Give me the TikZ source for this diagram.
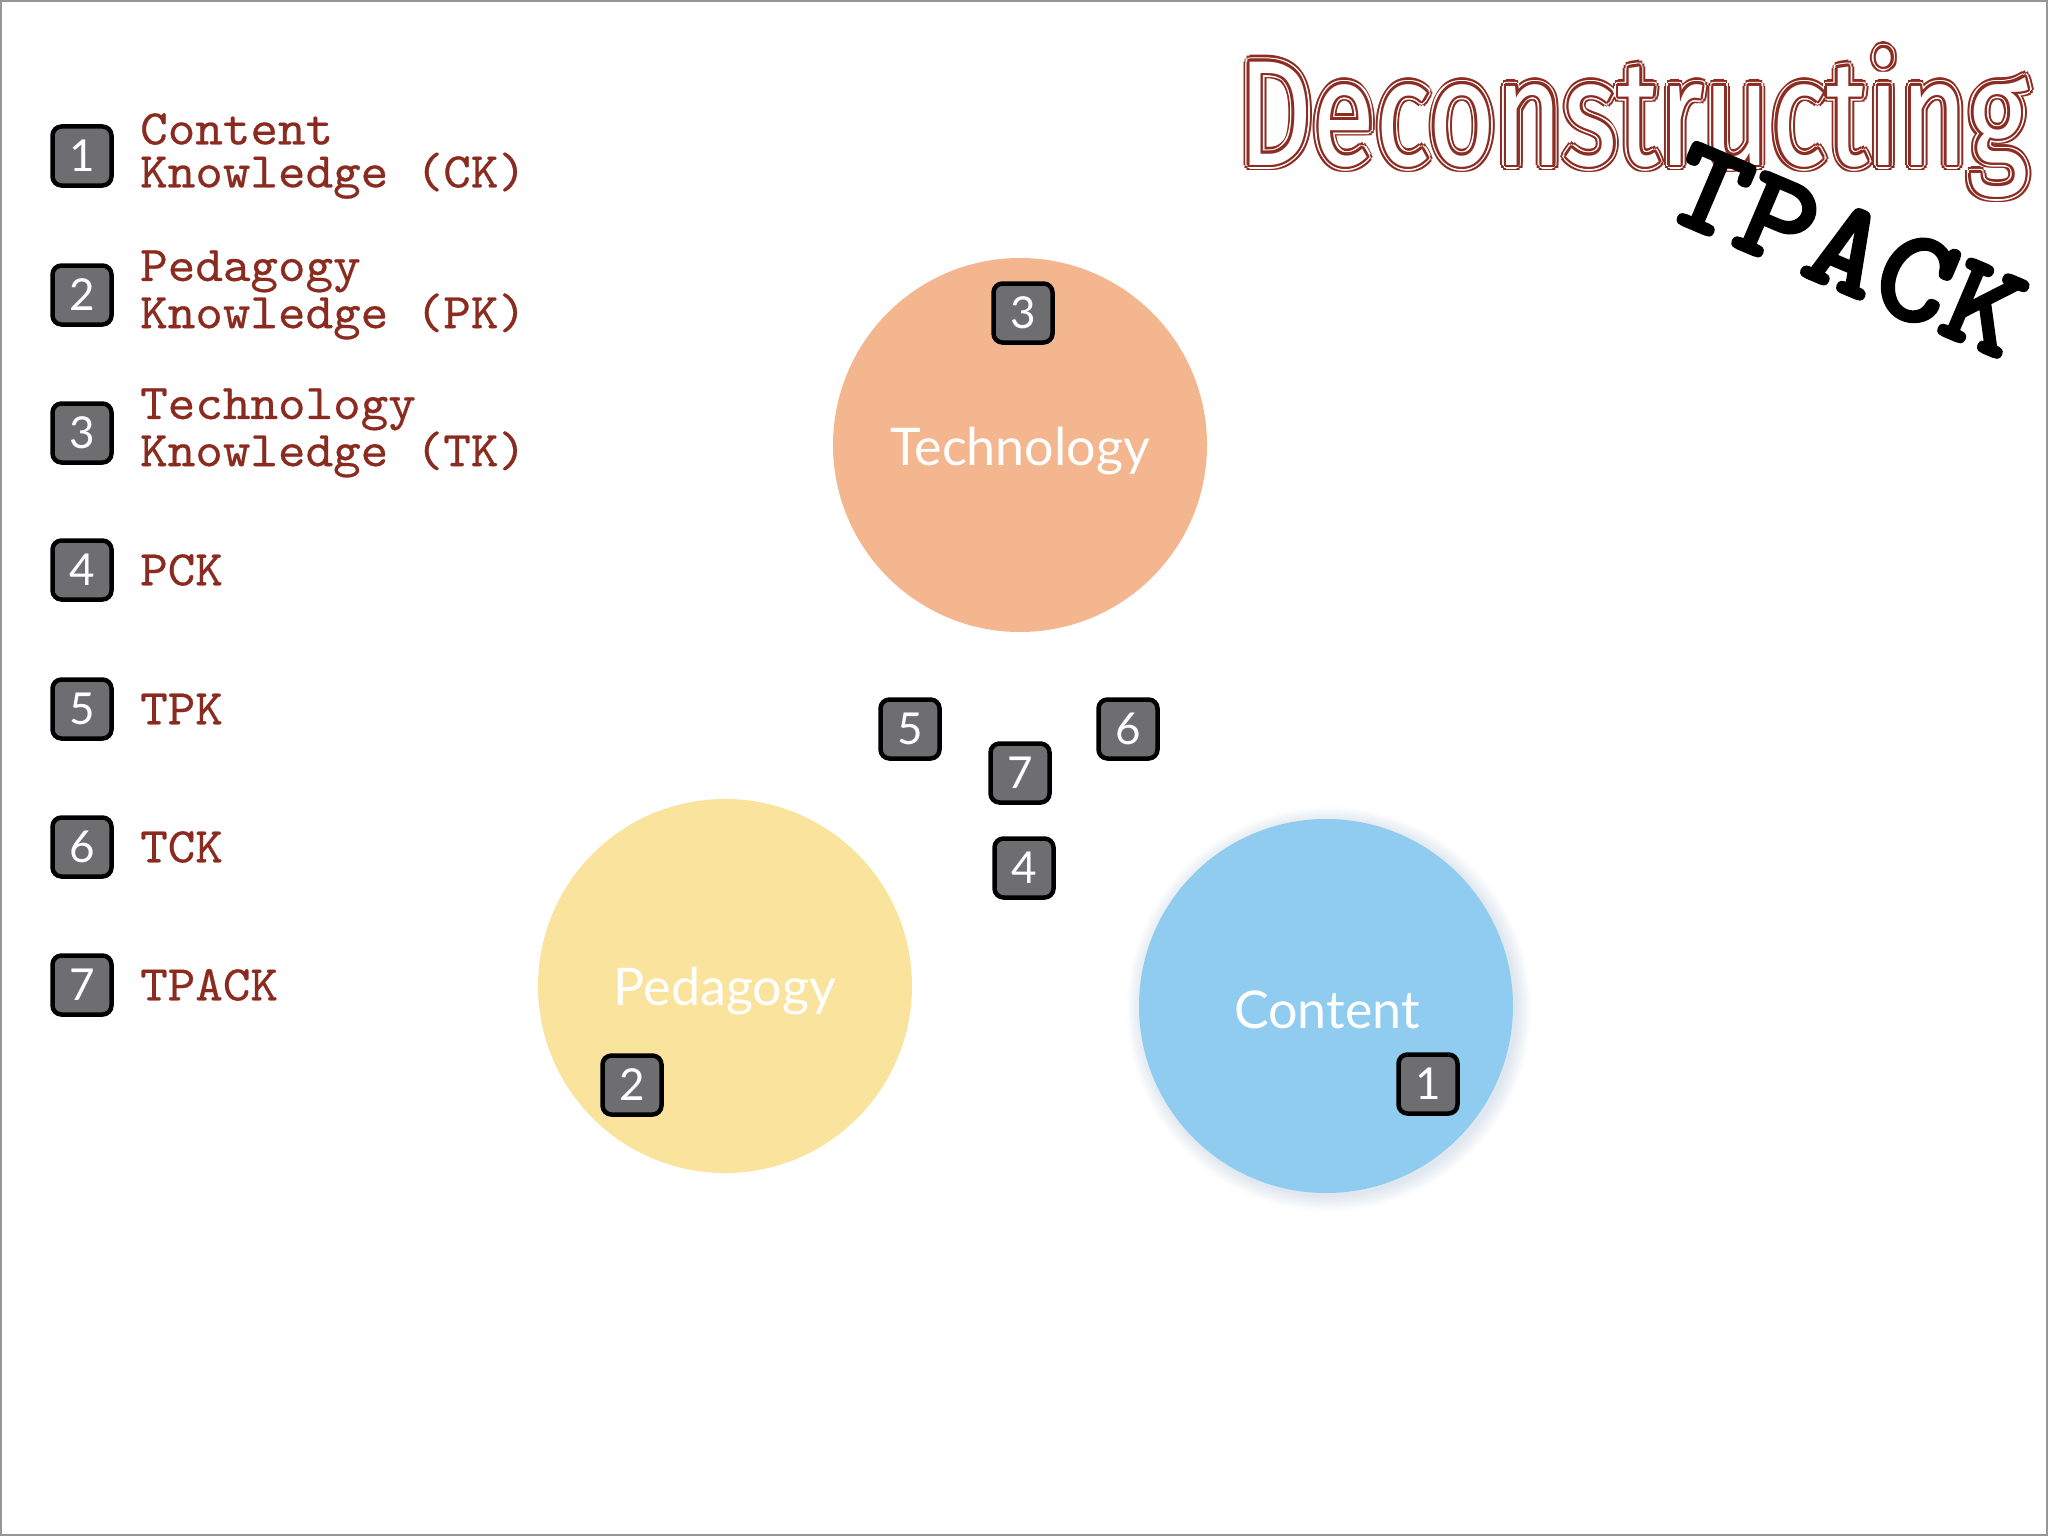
\documentclass[tikz,border=0pt]{standalone}
\usepackage{fontspec}
\usetikzlibrary{calc}
\newfontfamily\gillfont{Lato}
\newfontfamily\titlefont{Fira Sans}[FakeStretch=0.77]
\newfontfamily\tpackfont{lmmonolt10-bold.otf}[FakeStretch=1.06, FakeBold=2]
\newfontfamily\legendfont{lmmono10-regular.otf}[FakeStretch=1.05, FakeBold=0.5]
\definecolor{techorange}{RGB}{243,182,143}
\definecolor{pedyellow}{RGB}{249,227,157}
\definecolor{contblue}{RGB}{143,204,240}
\definecolor{badgegray}{RGB}{110,110,112}
\definecolor{legendred}{RGB}{139,42,30}
\definecolor{titlered}{RGB}{140,45,35}
\definecolor{framegray}{RGB}{150,150,150}
\definecolor{shadowblue}{RGB}{100,140,175}
\begin{document}
\begin{tikzpicture}[x=1pt,y=-1pt,
  badge/.style={rectangle, rounded corners=9pt, minimum width=59pt, minimum height=59pt,
    inner sep=0pt, fill=badgegray, draw=black, line width=4.5pt, text=white,
    font=\gillfont\fontsize{44}{44}\selectfont},
  legend/.style={anchor=west, align=left, text=legendred, inner sep=0pt,
    font=\legendfont\fontsize{50}{43}\selectfont},
  disc/.style={circle, inner sep=0pt, minimum size=374pt},
  disclabel/.style={text=white, inner sep=0pt, font=\gillfont\fontsize{52}{52}\selectfont},
  titletext/.style={anchor=base west, inner sep=0pt,
    font=\titlefont\fontsize{150}{150}\selectfont}]
\useasboundingbox (0,0) rectangle (2048,1536);
\fill[white] (0,0) rectangle (2048,1536);
\draw[framegray, line width=2pt] (1,1) rectangle (2047,1535);

% circles
\node[disc, fill=techorange] (tech) at (1020,445) {};
\node[disclabel] (techlabel) at (1020,451) {Technology};
\node[disc, fill=pedyellow] (ped) at (725,986) {};
\node[disclabel] (pedlabel) at (725,991) {Pedagogy};
\foreach \r in {1,...,8} {
  \fill[shadowblue, opacity=0.025] (1329,1009) circle ({186+2*\r});
}
\node[disc, fill=contblue] (cont) at (1326,1006) {};
\node[disclabel] (contlabel) at (1327,1010) {Content};

% badges in the diagram
\node[badge] (b3) at (1023,313) {3};
\node[badge] (b2) at (632,1085) {2};
\node[badge] (b1) at (1428,1084) {1};
\node[badge] (b5) at (910,729) {5};
\node[badge] (b6) at (1128,729) {6};
\node[badge] (b7) at (1020,773) {7};
\node[badge] (b4) at (1024,868) {4};

% legend
\node[badge] (k1) at (82,156) {1};
\node[badge] (k2) at (82,295) {2};
\node[badge] (k3) at (82,433) {3};
\node[badge] (k4) at (82,570) {4};
\node[badge] (k5) at (82,709) {5};
\node[badge] (k6) at (82,847) {6};
\node[badge] (k7) at (82,985) {7};
\node[legend] (t1) at (140,156) {Content\\Knowledge (CK)};
\node[legend] (t2) at (140,295) {Pedagogy\\Knowledge (PK)};
\node[legend] (t3) at (140,433) {Technology\\Knowledge (TK)};
\node[legend] (t4) at (140,570) {PCK};
\node[legend] (t5) at (140,709) {TPK};
\node[legend] (t6) at (140,847) {TCK};
\node[legend] (t7) at (140,985) {TPACK};

% title: sketchy double outline
\foreach \rad/\col [count=\j] in {6/titlered, 4/white, 2.5/titlered} {
  \foreach \a [count=\i] in {0,30,...,330} {
    \node[titletext, text=\col] (tc\j-\i) at ($(1238,165)+({\rad*cos(\a)},{\rad*sin(\a)})$) {Deconstructing};
  }
}
\node[titletext, text=white] (title) at (1238,165) {Deconstructing};
\node[rotate=-23, inner sep=0pt, font=\tpackfont\fontsize{134}{134}\selectfont] (tpack) at (1847,250) {TPACK};
\end{tikzpicture}
\end{document}
